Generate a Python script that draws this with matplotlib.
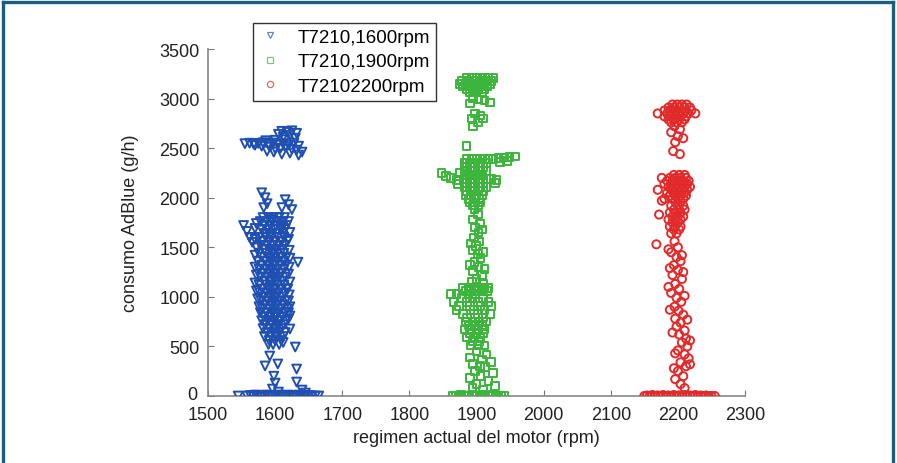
import matplotlib
matplotlib.use("Agg")
import matplotlib.pyplot as plt
from matplotlib.lines import Line2D
import matplotlib.transforms as mtransforms

plt.rcParams['font.family'] = ['Liberation Sans', 'DejaVu Sans']

# ---------------- data (rpm, g/h) ----------------
series_labels = ["T7210,1600rpm", "T7210,1900rpm", "T72102200rpm"]
x_ticks = [1500, 1600, 1700, 1800, 1900, 2000, 2100, 2200, 2300]
y_ticks = [0, 500, 1000, 1500, 2000, 2500, 3000, 3500]

blue_pts = [
    # top cluster
    (1610, 2670), (1618, 2660), (1625, 2675), (1632, 2650), (1605, 2640), (1622, 2630), (1612, 2610),
    (1555, 2545), (1562, 2550), (1568, 2540), (1575, 2548), (1582, 2555), (1590, 2540), (1597, 2552),
    (1604, 2535), (1612, 2545), (1620, 2530), (1628, 2550), (1635, 2520),
    (1580, 2520), (1592, 2510), (1600, 2495), (1608, 2500), (1616, 2510), (1625, 2490), (1632, 2480),
    (1598, 2460), (1610, 2440), (1622, 2450), (1635, 2430), (1588, 2470), (1640, 2460),
    (1570, 2530), (1586, 2575), (1600, 2580), (1615, 2585), (1630, 2600),
    # scattered above body
    (1580, 2050), (1585, 2000), (1588, 1940), (1583, 1900), (1615, 1980), (1620, 1930), (1610, 1900), (1625, 1880),
    # left outliers
    (1553, 1720), (1558, 1660), (1562, 1600), (1566, 1550), (1570, 1690),
    # dense body
    (1582, 1800), (1590, 1800), (1598, 1800), (1606, 1800), (1614, 1800),
    (1578, 1760), (1588, 1760), (1596, 1760), (1604, 1760), (1612, 1760), (1620, 1760),
    (1584, 1720), (1593, 1720), (1601, 1720), (1609, 1720), (1617, 1720),
    (1580, 1680), (1590, 1680), (1599, 1680), (1608, 1680), (1615, 1680),
    (1585, 1640), (1594, 1640), (1602, 1640), (1611, 1640),
    (1576, 1600), (1586, 1600), (1595, 1600), (1604, 1600), (1613, 1600),
    (1582, 1560), (1591, 1560), (1600, 1560), (1609, 1560), (1618, 1560),
    (1578, 1520), (1588, 1520), (1597, 1520), (1606, 1520), (1614, 1520),
    (1584, 1480), (1593, 1480), (1602, 1480), (1611, 1480),
    (1576, 1440), (1586, 1440), (1595, 1440), (1604, 1440), (1613, 1440),
    (1580, 1400), (1590, 1400), (1599, 1400), (1608, 1400), (1617, 1400),
    (1574, 1360), (1585, 1360), (1594, 1360), (1603, 1360), (1612, 1360),
    (1580, 1320), (1589, 1320), (1598, 1320), (1607, 1320), (1616, 1320),
    (1576, 1280), (1586, 1280), (1595, 1280), (1604, 1280), (1613, 1280),
    (1582, 1240), (1591, 1240), (1600, 1240), (1609, 1240),
    (1578, 1200), (1588, 1200), (1597, 1200), (1606, 1200), (1615, 1200),
    (1584, 1160), (1593, 1160), (1602, 1160), (1611, 1160),
    (1576, 1120), (1586, 1120), (1595, 1120), (1604, 1120), (1613, 1120),
    (1581, 1080), (1590, 1080), (1599, 1080), (1608, 1080), (1617, 1080),
    (1577, 1040), (1587, 1040), (1596, 1040), (1605, 1040), (1614, 1040),
    (1583, 1000), (1592, 1000), (1601, 1000), (1610, 1000),
    (1579, 960), (1589, 960), (1598, 960), (1607, 960), (1616, 960),
    (1585, 920), (1594, 920), (1603, 920), (1612, 920),
    (1581, 880), (1591, 880), (1600, 880), (1609, 880), (1618, 880),
    (1587, 840), (1596, 840), (1605, 840), (1614, 840),
    (1583, 800), (1593, 800), (1602, 800), (1611, 800),
    (1589, 760), (1598, 760), (1607, 760), (1616, 760),
    (1585, 720), (1595, 720), (1604, 720), (1613, 720),
    (1591, 680), (1600, 680), (1609, 680),
    (1588, 640), (1597, 640), (1606, 640), (1615, 640),
    (1594, 600), (1603, 600), (1612, 600),
    (1591, 560), (1600, 560), (1609, 560),
    (1597, 520), (1606, 520),
    # extra body points (fill)
    (1572, 1740), (1594, 1780), (1610, 1700), (1622, 1650), (1570, 1580), (1592, 1620), (1620, 1580),
    (1572, 1500), (1598, 1460), (1621, 1470), (1570, 1420), (1592, 1380), (1622, 1390),
    (1570, 1300), (1600, 1340), (1621, 1300), (1572, 1220), (1595, 1260), (1620, 1230),
    (1570, 1140), (1598, 1180), (1622, 1150), (1572, 1060), (1594, 1100), (1621, 1020),
    (1574, 980), (1596, 1020), (1620, 960), (1576, 900), (1598, 940), (1622, 900),
    (1578, 840), (1600, 820), (1620, 840), (1580, 760), (1594, 740), (1620, 780),
    (1582, 680), (1604, 700), (1584, 600), (1600, 620), (1590, 520), (1612, 540),
    # right outliers
    (1634, 1350), (1619, 1080), (1622, 807), (1622, 676),
    # low scattered
    (1630, 494), (1592, 403), (1604, 323), (1585, 303), (1632, 272), (1632, 141),
    (1598, 200), (1600, 130), (1596, 70), (1640, 60), (1645, 30), (1605, 40),
    # base row
    (1545, 0), (1558, 0), (1563, 5), (1567, 0), (1571, 10), (1575, 0), (1579, 5), (1583, 0),
    (1587, 10), (1591, 0), (1595, 5), (1599, 0), (1603, 10), (1607, 0), (1611, 5), (1615, 0),
    (1619, 10), (1623, 0), (1627, 5), (1631, 0), (1635, 10), (1639, 0), (1643, 5), (1647, 0),
    (1651, 5), (1655, 0), (1660, 0), (1665, 0),
]

green_pts = [
    # top cluster
    (1885, 3210), (1893, 3210), (1901, 3210), (1909, 3210), (1917, 3210), (1925, 3210),
    (1878, 3180), (1887, 3180), (1896, 3180), (1905, 3180), (1914, 3180), (1922, 3180),
    (1875, 3150), (1884, 3150), (1893, 3150), (1902, 3150), (1911, 3150), (1920, 3150),
    (1880, 3120), (1889, 3120), (1898, 3120), (1907, 3120), (1916, 3120),
    (1885, 3090), (1894, 3090), (1903, 3090), (1912, 3090),
    (1890, 3060), (1899, 3060), (1908, 3060),
    # scattered
    (1895, 3000), (1903, 2990), (1912, 2980), (1920, 2960), (1890, 2950), (1898, 2850),
    (1906, 2830), (1893, 2800), (1902, 2760), (1895, 2720), (1910, 2800), (1885, 2520),
    # dense block
    (1885, 2390), (1893, 2390), (1901, 2390), (1909, 2390), (1917, 2390), (1925, 2390),
    (1933, 2400), (1941, 2405), (1949, 2410), (1957, 2415),
    (1882, 2350), (1890, 2350), (1898, 2350), (1906, 2350), (1914, 2350), (1935, 2360), (1945, 2370),
    (1886, 2310), (1894, 2310), (1902, 2310), (1910, 2310),
    (1882, 2270), (1890, 2270), (1898, 2270), (1906, 2270), (1914, 2270),
    (1885, 2230), (1893, 2230), (1901, 2230), (1909, 2230),
    (1882, 2190), (1890, 2190), (1898, 2190), (1906, 2190), (1914, 2190), (1922, 2190), (1930, 2180),
    (1886, 2150), (1894, 2150), (1902, 2150), (1910, 2150), (1928, 2150),
    (1882, 2110), (1890, 2110), (1898, 2110), (1906, 2110), (1914, 2110),
    (1886, 2070), (1894, 2070), (1902, 2070), (1910, 2070),
    (1884, 2030), (1892, 2030), (1900, 2030), (1908, 2030),
    (1888, 1990), (1896, 1990), (1904, 1990),
    (1890, 1950), (1898, 1950), (1906, 1950),
    (1895, 1920), (1903, 1920),
    # left outliers
    (1848, 2250), (1855, 2220), (1862, 2200), (1870, 2180), (1875, 2250), (1872, 2140),
    # middle column
    (1897, 1880), (1902, 1830), (1895, 1780), (1905, 1740), (1898, 1700), (1903, 1650),
    (1896, 1600), (1904, 1560), (1899, 1510), (1894, 1470), (1902, 1430), (1906, 1390),
    (1897, 1350), (1903, 1300), (1895, 1260), (1908, 1220), (1900, 1180), (1893, 1150), (1910, 1130),
    (1908, 1680), (1892, 1540), (1910, 1450), (1890, 1320), (1912, 1280),
    # lower dense part
    (1880, 1090), (1888, 1090), (1896, 1090), (1904, 1090), (1912, 1090), (1918, 1090),
    (1884, 1060), (1892, 1060), (1900, 1060), (1908, 1060), (1916, 1060),
    (1862, 1030), (1870, 1030), (1888, 1030), (1898, 1030),
    (1878, 990), (1894, 990), (1910, 990),
    (1866, 950), (1886, 950), (1902, 950), (1918, 950),
    (1874, 910), (1890, 910), (1906, 910), (1922, 910),
    (1870, 870), (1896, 870), (1912, 870),
    (1880, 830), (1902, 830), (1920, 830),
    (1886, 790), (1898, 790), (1910, 790),
    (1884, 750), (1894, 750), (1904, 750), (1914, 750),
    (1888, 710), (1898, 710), (1908, 710),
    (1882, 670), (1892, 670), (1902, 670), (1912, 670),
    (1890, 630), (1900, 630), (1910, 630),
    (1886, 590), (1896, 590), (1906, 590),
    (1894, 550), (1904, 550),
    (1892, 510), (1902, 510), (1912, 510),
    # lower scattered
    (1900, 450), (1915, 420), (1890, 390), (1908, 370), (1922, 340), (1895, 320), (1905, 300),
    (1913, 290), (1898, 250), (1925, 230), (1906, 200), (1890, 180), (1918, 150), (1900, 120),
    (1928, 100), (1894, 80), (1910, 60),
    # base row
    (1865, 0), (1869, 5), (1873, 0), (1877, 10), (1881, 0), (1885, 5), (1889, 0), (1893, 10),
    (1897, 0), (1901, 5), (1905, 0), (1909, 10), (1913, 0), (1917, 5), (1921, 0), (1925, 10),
    (1929, 0), (1933, 5), (1937, 0), (1941, 0),
]

red_pts = [
    # top cluster
    (2192, 2940), (2199, 2940), (2206, 2940), (2213, 2940),
    (2186, 2910), (2194, 2910), (2202, 2910), (2210, 2910), (2218, 2910),
    (2180, 2880), (2188, 2880), (2196, 2880), (2204, 2880), (2212, 2880), (2220, 2880),
    (2170, 2850), (2184, 2850), (2192, 2850), (2200, 2850), (2208, 2850), (2216, 2850), (2226, 2850),
    (2180, 2820), (2188, 2820), (2196, 2820), (2204, 2820), (2212, 2820),
    (2186, 2790), (2194, 2790), (2202, 2790), (2210, 2790),
    (2190, 2760), (2198, 2760), (2206, 2760),
    # scattered
    (2195, 2720), (2203, 2690), (2190, 2660), (2200, 2620), (2208, 2600), (2196, 2560),
    (2193, 2470), (2203, 2440),
    # middle dense
    (2194, 2230), (2202, 2230), (2210, 2230),
    (2176, 2200), (2188, 2200), (2196, 2200), (2204, 2200), (2212, 2200),
    (2184, 2170), (2192, 2170), (2200, 2170), (2208, 2170), (2216, 2170),
    (2180, 2140), (2190, 2140), (2198, 2140), (2206, 2140), (2214, 2140),
    (2186, 2110), (2194, 2110), (2202, 2110), (2210, 2110), (2218, 2110),
    (2170, 2080), (2190, 2080), (2198, 2080), (2206, 2080), (2214, 2080),
    (2184, 2050), (2194, 2050), (2202, 2050), (2210, 2050),
    (2188, 2020), (2196, 2020), (2204, 2020), (2212, 2020),
    (2180, 1990), (2192, 1990), (2200, 1990), (2208, 1990),
    (2196, 1960), (2204, 1960),
    (2190, 1920), (2200, 1920), (2208, 1920),
    (2194, 1880), (2202, 1880), (2210, 1880),
    (2188, 1850), (2196, 1850), (2204, 1850),
    (2192, 1810), (2200, 1810), (2208, 1810),
    (2186, 1780), (2196, 1780), (2204, 1780),
    (2192, 1750), (2200, 1750),
    (2188, 1710), (2196, 1710), (2204, 1710),
    (2194, 1680), (2202, 1680),
    (2190, 1640), (2198, 1640),
    # outliers
    (2172, 1830), (2168, 1530), (2176, 1970),
    # scattered column
    (2195, 1560), (2200, 1500), (2190, 1450), (2198, 1400), (2204, 1360), (2194, 1320),
    (2200, 1270), (2192, 1220), (2206, 1180), (2196, 1130), (2202, 1080), (2190, 1040),
    (2198, 990), (2205, 950), (2195, 900), (2201, 860), (2208, 820), (2196, 780),
    (2204, 740), (2198, 700), (2210, 660), (2202, 620), (2212, 580), (2206, 540),
    (2214, 500), (2200, 460), (2210, 420), (2216, 380), (2204, 340), (2212, 300),
    (2200, 250), (2208, 200), (2196, 170), (2204, 120), (2210, 80),
    (2186, 1480), (2206, 1420), (2188, 1290), (2208, 1250), (2186, 1100), (2210, 1010),
    (2188, 870), (2214, 770), (2192, 640), (2218, 560), (2196, 430), (2218, 320), (2194, 280),
    # base row
    (2150, 0), (2154, 5), (2158, 0), (2162, 10), (2166, 0), (2170, 5), (2174, 0), (2178, 10),
    (2182, 0), (2186, 5), (2190, 0), (2194, 10), (2198, 0), (2202, 5), (2206, 0), (2210, 10),
    (2214, 0), (2218, 5), (2222, 0), (2226, 10), (2230, 0), (2234, 5), (2238, 0), (2242, 5),
    (2246, 0), (2250, 0), (2255, 0),
]

# ---------------- figure ----------------
W, H = 897, 464
fig = plt.figure(figsize=(W / 100, H / 100), dpi=100)
fig.patch.set_facecolor('white')

ax = fig.add_axes([208 / W, 1 - 397 / H, (745 - 208) / W, (397 - 50) / H])

colors = ['#1f4fb0', '#3cb53c', '#e32a2a']
markers = ['v', 's', 'o']
sizes = [40, 30, 34]
for pts, c, m, s in zip([blue_pts, green_pts, red_pts], colors, markers, sizes):
    xs = [p[0] for p in pts]
    ys = [p[1] for p in pts]
    ax.scatter(xs, ys, s=s, marker=m, facecolors='none', edgecolors=c, linewidths=1.4, zorder=3)

ax.set_xlim(1500, 2300)
ax.set_ylim(0, 3500)
ax.set_xticks(x_ticks)
ax.set_yticks(y_ticks)
ax.tick_params(direction='in', length=4, width=0.8, colors='#777777', labelcolor='#222222',
               labelsize=13, pad=6)
ax.tick_params(axis='x', pad=7)
for side in ['top', 'right']:
    ax.spines[side].set_visible(False)
for side in ['left', 'bottom']:
    ax.spines[side].set_color('#888888')
    ax.spines[side].set_linewidth(1.2)

# nudge the y "0" label slightly up/left so it does not collide with "1500"
fig.canvas.draw()
zero_lbl = ax.get_yticklabels()[0]
zero_lbl.set_transform(zero_lbl.get_transform() +
                       mtransforms.ScaledTranslation(-2 / 100, 3 / 100, fig.dpi_scale_trans))

ax.set_xlabel('regimen actual del motor (rpm)', fontsize=13, color='#222222')
ax.set_ylabel('consumo AdBlue (g/h)', fontsize=13, color='#222222')
ax.xaxis.set_label_coords(0.5, -0.095)
ax.yaxis.set_label_coords(-0.128, 0.5)

handles = [Line2D([], [], linestyle='none', marker=m, markersize=4.5, markerfacecolor='none',
                  markeredgecolor=c, markeredgewidth=0.9, alpha=0.7)
           for m, c in zip(markers, colors)]
leg = ax.legend(handles, series_labels, loc='upper left',
                bbox_to_anchor=(253 / W, 1 - 24 / H), bbox_transform=fig.transFigure,
                fontsize=13.5, frameon=True, fancybox=False, framealpha=1,
                edgecolor='#333333', borderpad=0.3, labelspacing=0.4,
                handlelength=1.2, handletextpad=0.9, borderaxespad=0)
leg.get_frame().set_linewidth(1.0)

# outer frame (top, left, right)
fc = '#1b5f7f'
fig.add_artist(Line2D([3 / W, 1 - 4 / W], [1 - 3 / H, 1 - 3 / H], transform=fig.transFigure, color=fc, lw=2.4))
fig.add_artist(Line2D([3 / W, 3 / W], [0, 1 - 3 / H], transform=fig.transFigure, color=fc, lw=2.4))
fig.add_artist(Line2D([1 - 4 / W, 1 - 4 / W], [0, 1 - 3 / H], transform=fig.transFigure, color=fc, lw=2.4))

fig.savefig('out.png', dpi=100)
